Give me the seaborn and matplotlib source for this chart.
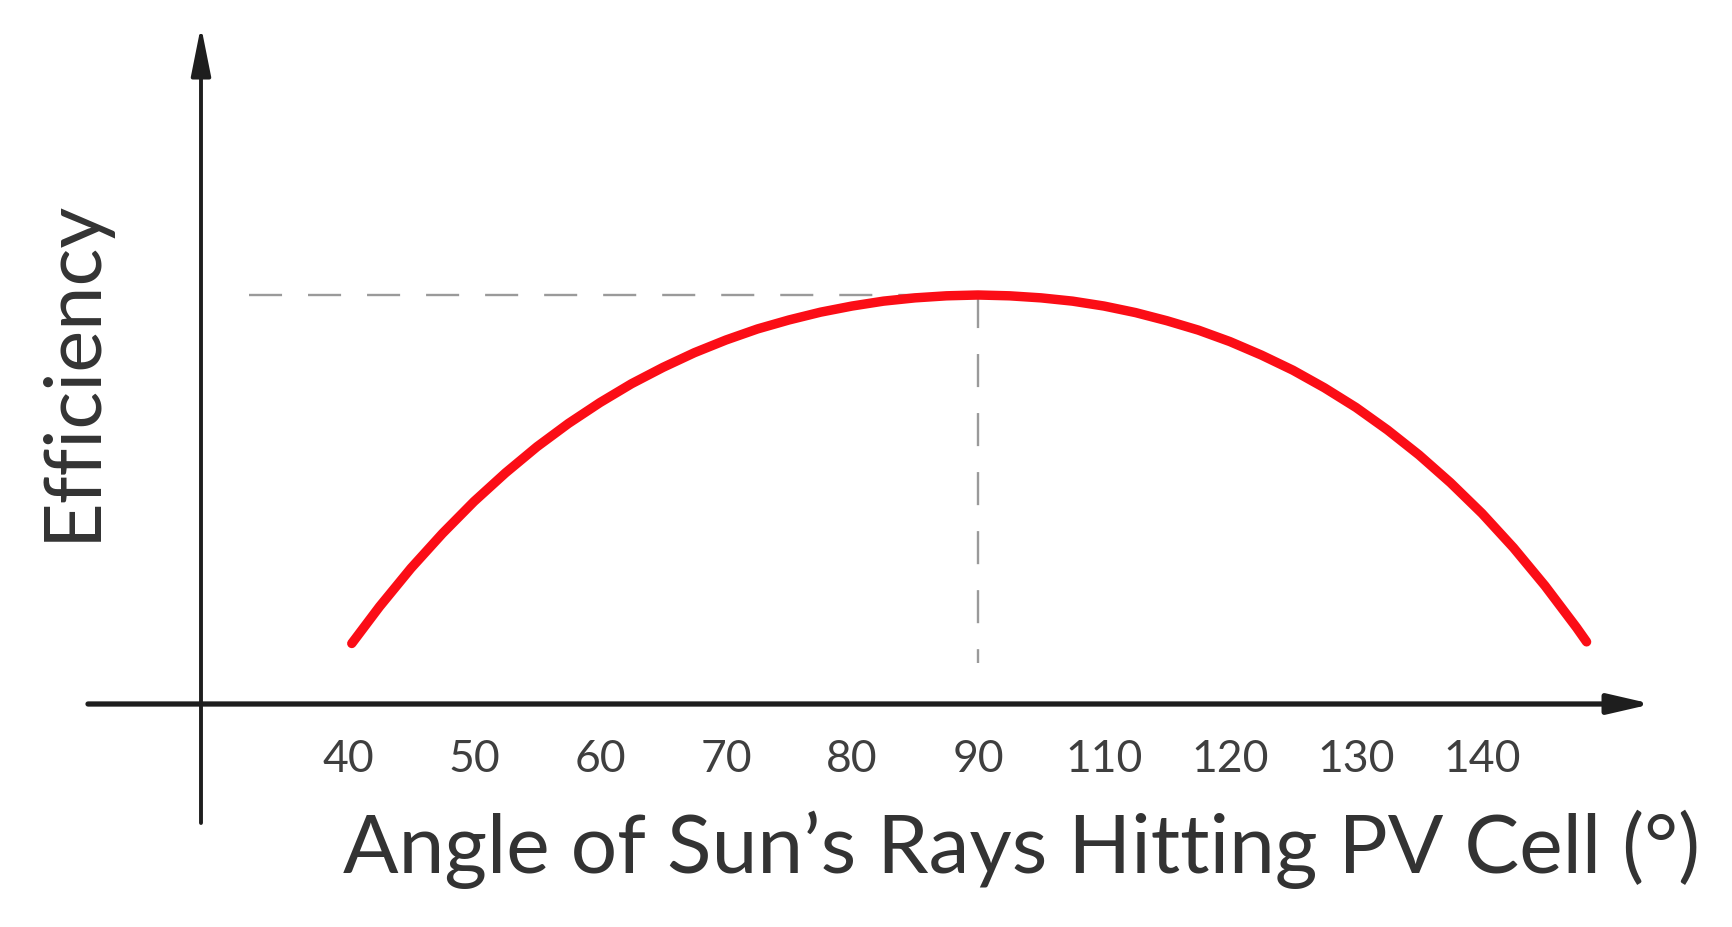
import numpy as np
import pandas as pd
import matplotlib
matplotlib.use("Agg")
import matplotlib.pyplot as plt
import seaborn as sns

# ---- data ----
tick_angles = [40, 50, 60, 70, 80, 90, 110, 120, 130, 140]
tick_labels = ["40", "50", "60", "70", "80", "90", "110", "120", "130", "140"]
# curve read at angle values (as labelled on the axis) -> relative efficiency
curve_angle = [40.3, 42.5, 45, 47.5, 50, 52.5, 55, 57.5, 60, 62.5, 65, 67.5,
               70, 72.5, 75, 77.5, 80, 82.5, 85, 87.5, 90,
               95, 100, 105, 110, 112.5, 115, 117.5, 120, 122.5, 125, 127.5,
               130, 132.5, 135, 137.5, 140, 142.5, 145, 147.5, 148.3]
curve_eff = [14.8, 23.8, 33.2, 41.7, 49.5, 56.5, 62.9, 68.6, 73.7, 78.3, 82.3, 85.9,
             89.0, 91.7, 93.9, 95.8, 97.3, 98.5, 99.3, 99.8, 100.0,
             99.8, 99.3, 98.5, 97.3, 95.7, 93.7, 91.4, 88.6, 85.3, 81.6, 77.3,
             72.5, 67.0, 60.9, 54.1, 46.6, 38.2, 28.9, 18.7, 15.2]
peak_angle = 90
peak_eff = 100.0
x_label = "Angle of Sun\u2019s Rays Hitting PV Cell (\u00b0)"
y_label = "Efficiency"

# axis positions follow the (evenly spaced) tick labels
tick_pos = np.arange(len(tick_angles))
def to_pos(a):
    a = np.asarray(a, dtype=float)
    p = np.interp(a, tick_angles, tick_pos)
    hi = a > tick_angles[-1]
    p[hi] = tick_pos[-1] + (a[hi] - tick_angles[-1]) / 10.0
    return p

df = pd.DataFrame({"pos": to_pos(curve_angle), "eff": curve_eff})

sns.set_theme(style="white")
plt.rcParams["font.family"] = ["Lato", "DejaVu Sans"]

W, H = 1733, 927
fig = plt.figure(figsize=(W / 100, H / 100), dpi=100)
ax = fig.add_axes([0, 0, 1, 1])
ax.set_facecolor("white")

# pixel layout -> data limits
x0_px, dx_px = 348.0, 126.0   # pixel of first tick and tick spacing
y0_px, dy_px = 704.0, 4.09    # pixel of x-axis and px per efficiency unit
ax.set_xlim((0 - x0_px) / dx_px, (W - x0_px) / dx_px)
ax.set_ylim((y0_px - H) / dy_px, y0_px / dy_px)

# curve
sns.lineplot(data=df, x="pos", y="eff", ax=ax, color="#fb0d16", lw=6.8,
             sort=False, estimator=None, solid_capstyle="round",
             solid_joinstyle="round")

# dashed guides
pk = float(to_pos([peak_angle])[0])
ax.plot([(249 - x0_px) / dx_px, pk], [peak_eff, peak_eff], color="#9a9a9a",
        lw=1.7, dashes=(14, 11), zorder=1)
ax.plot([pk, pk], [peak_eff, (y0_px - 663) / dy_px], color="#9a9a9a",
        lw=1.7, dashes=(14, 11), zorder=1)

# axes with arrows
yax_x = (201 - x0_px) / dx_px
ax.annotate("", xy=((1652 - x0_px) / dx_px, 0), xytext=((88 - x0_px) / dx_px, 0),
            arrowprops=dict(arrowstyle="-|>,head_length=26,head_width=6",
                            mutation_scale=1, lw=3.8, color="#1e1e1e",
                            shrinkA=0, shrinkB=0))
ax.annotate("", xy=(yax_x, (y0_px - 26) / dy_px),
            xytext=(yax_x, (y0_px - 823) / dy_px),
            arrowprops=dict(arrowstyle="-|>,head_length=30,head_width=6",
                            mutation_scale=1, lw=2.8, color="#1e1e1e",
                            shrinkA=0, shrinkB=0))

for s in ["top", "right", "left", "bottom"]:
    ax.spines[s].set_visible(False)
ax.spines["bottom"].set_position(("data", 0))
ax.set_xticks(tick_pos)
ax.set_xticklabels(tick_labels)
ax.set_yticks([])
ax.tick_params(axis="x", direction="out", length=8, width=1.8, color="#2a2a2a",
               pad=17, labelsize=32, labelcolor="#3f3f3f")
ax.grid(False)

xl = ax.set_xlabel(x_label, fontsize=52, color="#333333", ha="left", va="baseline")
ax.xaxis.set_label_coords(343 / W, 1 - 873 / H)
yl = ax.set_ylabel(y_label, fontsize=56, color="#333333", va="center", ha="center")
ax.yaxis.set_label_coords(73 / W, 1 - 370 / H)

# fit label widths to the reference layout
fig.canvas.draw()
r = fig.canvas.get_renderer()
for lab, target, horiz in [(xl, 1359, True), (yl, 342, False)]:
    bb = lab.get_window_extent(r)
    cur = bb.width if horiz else bb.height
    lab.set_fontsize(lab.get_fontsize() * target / cur)

fig.savefig("out.png", dpi=100, facecolor="white")
